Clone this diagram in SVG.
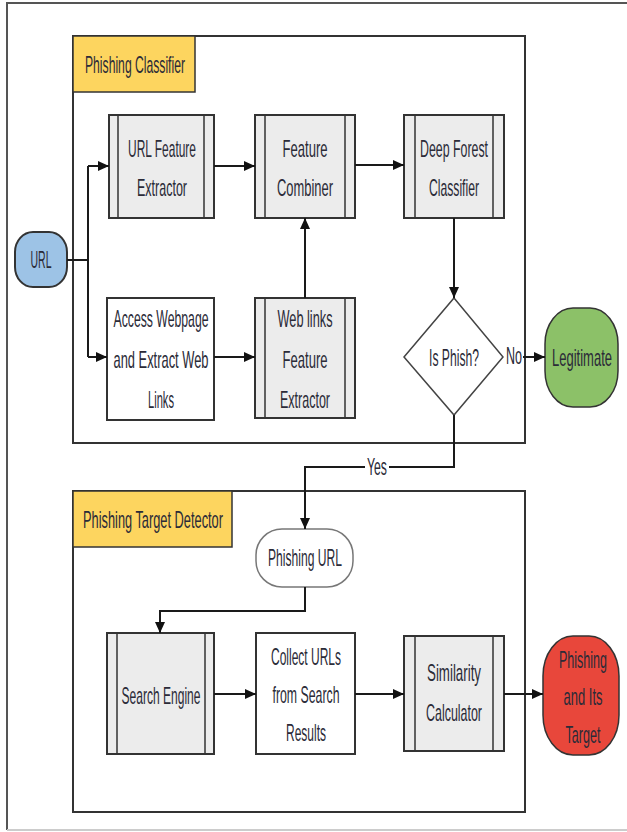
<svg xmlns="http://www.w3.org/2000/svg" width="627" height="832" viewBox="0 0 627 832">
<defs>
<marker id="arr" markerUnits="userSpaceOnUse" markerWidth="11" markerHeight="10" refX="11" refY="5" orient="auto">
<path d="M0,0 L11,5 L0,10 z" fill="#111"/>
</marker>
<style>
.t{font-family:"Liberation Sans",Arial,sans-serif;font-size:23px;fill:#2b2b38;text-anchor:middle;dominant-baseline:central}
.frame{fill:none;stroke:#333;stroke-width:2}
.lab{fill:#fdd55f;stroke:#333;stroke-width:1.5}
.proc{fill:#ececec;stroke:#333;stroke-width:2}
.in{stroke:#333;stroke-width:1.5}
.box{fill:#fff;stroke:#333;stroke-width:2}
.c{fill:none;stroke:#1a1a1a;stroke-width:2}
</style>
</defs>
<rect width="627" height="832" fill="#fff"/>
<g id="outer">
<path d="M7,830 V3 H627" fill="none" stroke="#555" stroke-width="2"/>
<path d="M7,830 H627" fill="none" stroke="#ccc" stroke-width="2"/>
</g>
<g id="classifier">
<rect class="frame" x="73" y="36" width="452" height="407"/>
<rect class="lab" x="73" y="36" width="122" height="56"/>
<text class="t" transform="translate(135,65) scale(0.56,1)" textLength="178.6" lengthAdjust="spacingAndGlyphs">Phishing Classifier</text>
</g>
<g id="detector">
<rect class="frame" x="73" y="491" width="452" height="321"/>
<rect class="lab" x="73" y="491" width="159" height="56"/>
<text class="t" transform="translate(153,520) scale(0.56,1)" textLength="250" lengthAdjust="spacingAndGlyphs">Phishing Target Detector</text>
</g>
<g id="url">
<rect x="15" y="232" width="52" height="55" rx="18" ry="20" fill="#9dc3e6" stroke="#333" stroke-width="2"/>
<text class="t" transform="translate(41,260) scale(0.56,1)" textLength="37.5" lengthAdjust="spacingAndGlyphs">URL</text>
</g>
<g id="urlfe">
<rect class="proc" x="109" y="115" width="105" height="103"/>
<line class="in" x1="118" y1="115" x2="118" y2="218"/><line class="in" x1="204" y1="115" x2="204" y2="218"/>
<text class="t" transform="translate(162,149) scale(0.56,1)" textLength="121.4" lengthAdjust="spacingAndGlyphs">URL Feature</text>
<text class="t" transform="translate(162,188) scale(0.56,1)" textLength="89.3" lengthAdjust="spacingAndGlyphs">Extractor</text>
</g>
<g id="combiner">
<rect class="proc" x="255" y="115" width="100" height="103"/>
<line class="in" x1="265" y1="115" x2="265" y2="218"/><line class="in" x1="345" y1="115" x2="345" y2="218"/>
<text class="t" transform="translate(305,149) scale(0.56,1)" textLength="80.4" lengthAdjust="spacingAndGlyphs">Feature</text>
<text class="t" transform="translate(305,188) scale(0.56,1)" textLength="100" lengthAdjust="spacingAndGlyphs">Combiner</text>
</g>
<g id="deepforest">
<rect class="proc" x="404" y="115" width="100" height="103"/>
<line class="in" x1="415" y1="115" x2="415" y2="218"/><line class="in" x1="493" y1="115" x2="493" y2="218"/>
<text class="t" transform="translate(454,149) scale(0.56,1)" textLength="121.4" lengthAdjust="spacingAndGlyphs">Deep Forest</text>
<text class="t" transform="translate(454,188) scale(0.56,1)" textLength="89.3" lengthAdjust="spacingAndGlyphs">Classifier</text>
</g>
<g id="access">
<rect class="box" x="107" y="298" width="107" height="122"/>
<text class="t" transform="translate(161,319) scale(0.56,1)" textLength="169.6" lengthAdjust="spacingAndGlyphs">Access Webpage</text>
<text class="t" transform="translate(161,360) scale(0.56,1)" textLength="169.6" lengthAdjust="spacingAndGlyphs">and Extract Web</text>
<text class="t" transform="translate(161,400) scale(0.56,1)" textLength="46.4" lengthAdjust="spacingAndGlyphs">Links</text>
</g>
<g id="weblinks">
<rect class="proc" x="255" y="298" width="100" height="120"/>
<line class="in" x1="265" y1="298" x2="265" y2="418"/><line class="in" x1="345" y1="298" x2="345" y2="418"/>
<text class="t" transform="translate(305,319) scale(0.56,1)" textLength="98.2" lengthAdjust="spacingAndGlyphs">Web links</text>
<text class="t" transform="translate(305,360) scale(0.56,1)" textLength="80.4" lengthAdjust="spacingAndGlyphs">Feature</text>
<text class="t" transform="translate(305,400) scale(0.56,1)" textLength="89.3" lengthAdjust="spacingAndGlyphs">Extractor</text>
</g>
<g id="isphish">
<polygon points="454,298 503,357 454,415 404,357" fill="#fff" stroke="#444" stroke-width="1.5"/>
<text class="t" transform="translate(454,358) scale(0.56,1)" textLength="89.3" lengthAdjust="spacingAndGlyphs">Is Phish?</text>
</g>
<g id="legitimate">
<rect x="545" y="308" width="73" height="99" rx="28" ry="36" fill="#8cc168" stroke="#333" stroke-width="1.5"/>
<text class="t" transform="translate(582,358) scale(0.56,1)" textLength="107" lengthAdjust="spacingAndGlyphs">Legitimate</text>
</g>
<g id="phishurl">
<rect x="256" y="529" width="97" height="58" rx="26" ry="26" fill="#fff" stroke="#777" stroke-width="1.5"/>
<text class="t" transform="translate(305,558) scale(0.56,1)" textLength="132" lengthAdjust="spacingAndGlyphs">Phishing URL</text>
</g>
<g id="search">
<rect class="proc" x="107" y="633" width="107" height="121"/>
<line class="in" x1="117" y1="633" x2="117" y2="754"/><line class="in" x1="205" y1="633" x2="205" y2="754"/>
<text class="t" transform="translate(161,696) scale(0.56,1)" textLength="141" lengthAdjust="spacingAndGlyphs">Search Engine</text>
</g>
<g id="collect">
<rect class="box" x="256" y="633" width="99" height="121"/>
<text class="t" transform="translate(306,657) scale(0.56,1)" textLength="125" lengthAdjust="spacingAndGlyphs">Collect URLs</text>
<text class="t" transform="translate(306,695) scale(0.56,1)" textLength="119.6" lengthAdjust="spacingAndGlyphs">from Search</text>
<text class="t" transform="translate(306,733) scale(0.56,1)" textLength="71.4" lengthAdjust="spacingAndGlyphs">Results</text>
</g>
<g id="similarity">
<rect class="proc" x="404" y="636" width="100" height="115"/>
<line class="in" x1="415" y1="636" x2="415" y2="751"/><line class="in" x1="493" y1="636" x2="493" y2="751"/>
<text class="t" transform="translate(454,673) scale(0.56,1)" textLength="96.4" lengthAdjust="spacingAndGlyphs">Similarity</text>
<text class="t" transform="translate(454,713) scale(0.56,1)" textLength="100" lengthAdjust="spacingAndGlyphs">Calculator</text>
</g>
<g id="target">
<rect x="543" y="636" width="76" height="119" rx="30" ry="40" fill="#e8473b" stroke="#333" stroke-width="1.5"/>
<text class="t" transform="translate(583,660) scale(0.56,1)" textLength="85.7" lengthAdjust="spacingAndGlyphs">Phishing</text>
<text class="t" transform="translate(583,697) scale(0.56,1)" textLength="69.6" lengthAdjust="spacingAndGlyphs">and Its</text>
<text class="t" transform="translate(583,735) scale(0.56,1)" textLength="62.5" lengthAdjust="spacingAndGlyphs">Target</text>
</g>
<g id="connectors">
<path class="c" d="M67,260 H88 M88,166 V357"/>
<path class="c" d="M88,166 H109" marker-end="url(#arr)"/>
<path class="c" d="M88,357 H107" marker-end="url(#arr)"/>
<path class="c" d="M214,166 H255" marker-end="url(#arr)"/>
<path class="c" d="M355,165 H404" marker-end="url(#arr)"/>
<path class="c" d="M214,357 H255" marker-end="url(#arr)"/>
<path class="c" d="M305,298 V218" marker-end="url(#arr)"/>
<path class="c" d="M454,218 V298" stroke-width="1.3" marker-end="url(#arr)"/>
<path class="c" d="M523,357 H545" marker-end="url(#arr)"/>
<text class="t" transform="translate(514,356) scale(0.56,1)" textLength="28.6" lengthAdjust="spacingAndGlyphs">No</text>
<path class="c" d="M454,415 V467 H305 V529" marker-end="url(#arr)"/>
<rect x="365" y="457" width="24" height="20" fill="#fff"/>
<text class="t" transform="translate(377,467) scale(0.56,1)" textLength="35.7" lengthAdjust="spacingAndGlyphs">Yes</text>
<path class="c" d="M305,587 V611 H160 V633" marker-end="url(#arr)"/>
<path class="c" d="M214,694 H256" marker-end="url(#arr)"/>
<path class="c" d="M355,694 H404" stroke="#444" marker-end="url(#arr)"/>
<path class="c" d="M504,694 H543" stroke="#666" stroke-width="2.5" marker-end="url(#arr)"/>
</g>
</svg>
